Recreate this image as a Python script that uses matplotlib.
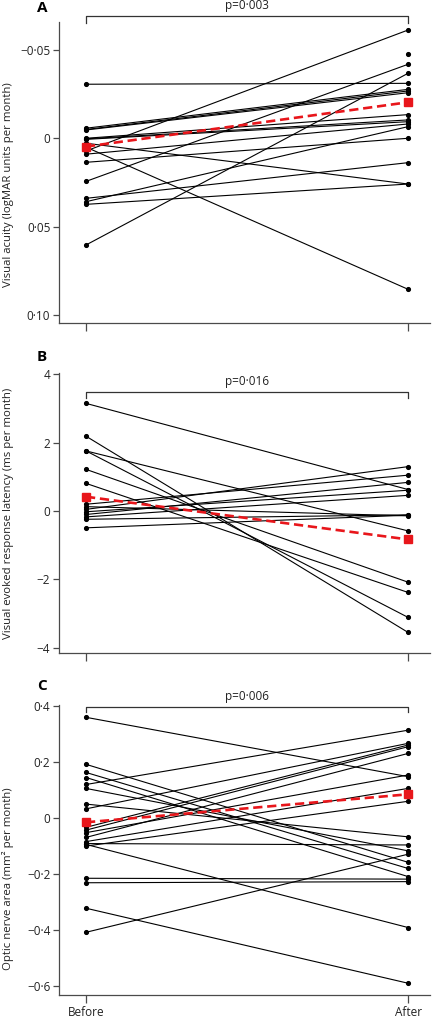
import matplotlib
matplotlib.use("Agg")
import matplotlib.pyplot as plt

plt.rcParams['font.family'] = ['Open Sans', 'DejaVu Sans']

# panel A - visual acuity
a_before = [-0.0306, -0.0057, -0.0050, -0.0047, 0.0000, 0.0003, 0.0006, 0.0028, 0.0072,
            0.0050, 0.0090, 0.0136, 0.0244, 0.0340, 0.0359, 0.0374, 0.0604]
a_after = [-0.0311, -0.0277, -0.0268, -0.0258, -0.0134, -0.0104, -0.0094, 0.0259, -0.0613,
           0.0855, -0.0081, 0.0000, -0.0419, 0.0138, -0.0066, 0.0259, -0.0368]
a_after_extra = [-0.0476]
a_mean = [0.0047, -0.0204]
a_ticks = [-0.05, 0, 0.05, 0.10]
a_ticklabels = ['\u22120\u00b705', '0', '0\u00b705', '0\u00b710']

# panel B - VER latency
b_before = [3.15, 2.19, 1.76, 1.76, 1.22, 0.81, 0.20, 0.13, 0.05, -0.02, -0.10, -0.17, -0.24, -0.49]
b_after = [0.63, -3.55, -3.11, -0.58, -2.08, -2.38, 1.05, -0.14, 1.30, 0.61, 0.84, 0.46, -0.11, -0.12]
b_mean = [0.42, -0.83]
b_ticks = [4, 2, 0, -2, -4]
b_ticklabels = ['4', '2', '0', '\u22122', '\u22124']

# panel C - optic nerve area
c_before = [0.361, 0.193, 0.164, 0.146, 0.121, 0.107, 0.051, 0.034, -0.032, -0.042, -0.051,
            -0.068, -0.083, -0.093, -0.099, -0.090, -0.214, -0.230, -0.321, -0.407]
c_after = [0.149, -0.157, -0.179, -0.208, 0.315, -0.116, -0.066, 0.268, 0.262, 0.256, 0.155,
           0.232, 0.107, -0.390, 0.061, -0.095, -0.217, -0.226, -0.589, -0.128]
c_mean = [-0.014, 0.086]
c_ticks = [0.4, 0.2, 0, -0.2, -0.4, -0.6]
c_ticklabels = ['0\u00b74', '0\u00b72', '0', '\u22120\u00b72', '\u22120\u00b74', '\u22120\u00b76']

xlabels = ['Before', 'After']
pvalues = ['p=0\u00b7003', 'p=0\u00b7016', 'p=0\u00b7006']
ylabels = ['Visual acuity (logMAR units per month)',
           'Visual evoked response latency (ms per month)',
           'Optic nerve area (mm\u00b2 per month)']

W, H = 435, 1018
fig = plt.figure(figsize=(W / 100, H / 100), dpi=100)

spine_col = '#4a4a4a'
text_col = '#222222'


def make_ax(top_px, bottom_px):
    left = 58.7 / W
    width = (430 - 58.7) / W
    return fig.add_axes([left, 1 - bottom_px / H, width, (bottom_px - top_px) / H])


def draw_panel(ax, before, after, mean, ylim, ticks, ticklabels, ylabel, pval,
               br_top, br_leg, label_y, show_x):
    for b, a in zip(before, after):
        ax.plot([0, 1], [b, a], color='black', lw=0.8, marker='o', ms=2.7, zorder=3, clip_on=False)
    ax.plot([0, 1], mean, color='#e8161b', lw=1.9, ls=(0, (3.5, 1.8)), marker='s', ms=6,
            zorder=5, clip_on=False)
    ax.plot([0, 0, 1, 1], [br_leg, br_top, br_top, br_leg], color='#333333', lw=0.9, clip_on=False)
    ax.annotate(pval, (0.5, br_top), xytext=(0, 2.5), textcoords='offset points',
                ha='center', va='bottom', fontsize=8.5, color=text_col, annotation_clip=False)
    ax.set_xlim(-0.0848, 1.068)
    ax.set_ylim(*ylim)
    ax.set_yticks(ticks)
    ax.set_yticklabels(ticklabels, fontsize=8.5, color=text_col)
    ax.set_xticks([0, 1])
    if show_x:
        ax.set_xticklabels(xlabels, fontsize=8.5, color=text_col)
    else:
        ax.set_xticklabels([])
    ax.set_ylabel(ylabel, fontsize=8.2, color=text_col)
    ax.yaxis.set_label_coords(-0.12, label_y)
    for s in ['top', 'right']:
        ax.spines[s].set_visible(False)
    for s in ['left', 'bottom']:
        ax.spines[s].set_color(spine_col)
        ax.spines[s].set_linewidth(0.9)
    ax.tick_params(axis='y', direction='out', length=4, width=0.9, color=spine_col, pad=2)
    ax.tick_params(axis='x', direction='out', length=6, width=0.9, color=spine_col, pad=2)


ax_a = make_ax(21.7, 322.7)
draw_panel(ax_a, a_before, a_after, a_mean, (0.1044, -0.066), a_ticks, a_ticklabels,
           ylabels[0], pvalues[0], -0.0693, -0.0653, 0.46, False)
ax_a.plot([1] * len(a_after_extra), a_after_extra, 'o', color='black', ms=2.7, zorder=3)

ax_b = make_ax(373.3, 653.3)
draw_panel(ax_b, b_before, b_after, b_mean, (-4.16, 4.03), b_ticks, b_ticklabels,
           ylabels[1], pvalues[1], 3.49, 3.31, 0.5, False)

ax_c = make_ax(705, 995)
draw_panel(ax_c, c_before, c_after, c_mean, (-0.631, 0.405), c_ticks, c_ticklabels,
           ylabels[2], pvalues[2], 0.399, 0.381, 0.40, True)

for letter, ypx in zip(['A', 'B', 'C'], [8, 357, 686]):
    fig.text(42 / W, 1 - ypx / H, letter, fontsize=11, fontweight='bold', ha='center', va='center')

fig.savefig('out.png', dpi=100)
